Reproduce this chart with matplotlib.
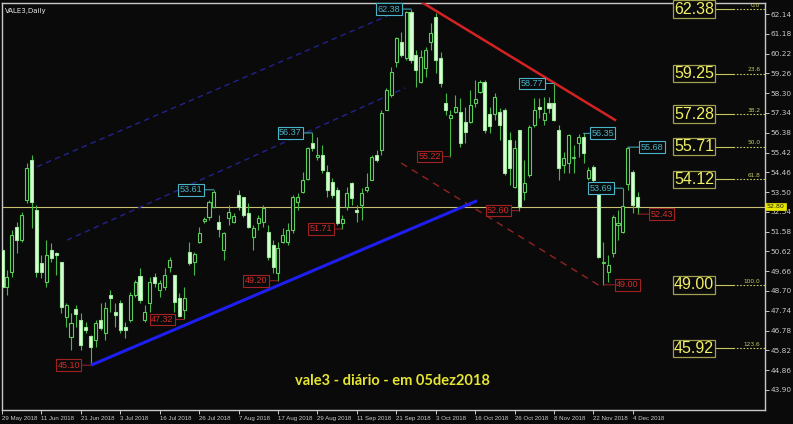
import matplotlib.pyplot as plt
import matplotlib.transforms as mtransforms

# VALE3 daily, 29 May 2018 .. 5 Dec 2018 (bar index 0..129)
opens = [50.69, 48.91, 49.64, 51.82, 51.18, 53.12, 55.06, 52.63, 50.05, 49.16,
         50.69, 50.56, 50.13, 47.46, 46.49, 47.81, 47.30, 46.94, 46.52, 46.33,
         47.30, 46.65, 48.51, 47.70, 48.11, 46.97, 47.30, 48.51, 49.43, 47.30,
         48.11, 49.37, 48.75, 48.91, 49.85, 49.48, 48.35, 47.78, 50.61, 50.13,
         51.10, 52.12, 52.31, 52.80, 52.07, 50.69, 52.23, 52.07, 53.36, 53.25,
         52.47, 51.34, 51.98, 52.06, 51.58, 50.93, 49.56, 51.09, 51.09, 51.66,
         53.03, 53.52, 54.12, 55.90, 55.19, 55.30, 54.49, 54.00, 53.60, 52.01,
         52.76, 53.92, 52.63, 52.87, 53.60, 54.08, 55.30, 55.54, 57.48, 58.21,
         59.83, 60.80, 59.99, 62.25, 60.15, 58.86, 59.50, 60.80, 62.01, 59.99,
         57.81, 57.08, 57.40, 57.40, 56.90, 56.92, 57.80, 58.37, 58.86, 57.30,
         57.30, 57.40, 57.48, 56.03, 53.76, 56.51, 53.52, 54.33, 56.76, 57.65,
         57.00, 57.81, 57.81, 56.51, 54.82, 54.90, 55.14, 55.87, 56.19, 54.17,
         54.73, 53.93, 50.05, 49.64, 50.53, 51.90, 51.58, 53.90, 54.49, 53.27]
highs = [50.85, 49.72, 51.66, 52.07, 52.55, 54.90, 55.30, 52.88, 50.45, 51.18,
         51.02, 50.61, 50.13, 48.11, 47.62, 48.02, 47.62, 47.22, 46.57, 47.30,
         48.11, 48.19, 48.75, 48.11, 48.27, 47.22, 48.67, 49.24, 49.80, 48.02,
         49.40, 49.56, 49.24, 49.80, 50.37, 49.48, 48.59, 48.91, 51.10, 50.61,
         51.82, 52.31, 53.12, 53.61, 52.39, 51.58, 52.88, 52.47, 53.60, 53.28,
         52.96, 51.91, 52.39, 52.87, 51.90, 51.17, 51.09, 51.74, 51.98, 53.35,
         53.44, 54.49, 55.70, 56.37, 56.19, 55.78, 54.81, 54.16, 53.76, 52.39,
         53.76, 54.00, 52.87, 53.68, 54.41, 55.30, 55.54, 57.48, 58.53, 59.59,
         61.04, 61.28, 62.30, 62.38, 60.39, 60.39, 60.56, 61.69, 62.17, 60.31,
         58.29, 57.48, 58.21, 58.05, 57.65, 58.45, 58.94, 58.94, 58.94, 57.64,
         58.30, 57.56, 57.56, 56.43, 56.03, 56.51, 55.06, 56.76, 58.05, 58.05,
         58.13, 58.13, 58.77, 56.76, 55.46, 56.30, 55.79, 56.30, 56.35, 54.73,
         54.82, 54.01, 51.10, 50.45, 52.39, 52.63, 53.69, 55.68, 54.57, 53.52]
lows = [48.83, 48.51, 49.40, 50.53, 51.10, 52.96, 51.74, 49.40, 49.32, 48.91,
        50.13, 49.48, 47.62, 46.97, 45.84, 46.97, 45.84, 46.65, 45.10, 46.00,
        46.81, 46.33, 47.70, 46.97, 46.65, 46.41, 47.22, 48.43, 48.11, 47.22,
        47.70, 48.91, 48.43, 48.75, 49.64, 47.70, 47.46, 47.32, 49.96, 49.48,
        51.02, 51.99, 52.15, 52.71, 51.34, 50.21, 51.91, 51.99, 52.63, 52.31,
        51.74, 50.69, 51.66, 51.82, 50.20, 49.56, 49.20, 51.01, 50.93, 51.50,
        52.63, 53.44, 54.08, 55.50, 55.06, 54.41, 53.28, 53.19, 51.90, 51.71,
        52.63, 52.87, 52.06, 52.14, 53.52, 54.08, 54.97, 55.30, 57.48, 58.13,
        59.59, 60.07, 59.91, 59.75, 58.61, 58.78, 59.10, 60.39, 59.26, 58.61,
        57.24, 55.22, 57.32, 55.71, 55.87, 56.84, 57.64, 58.29, 56.35, 56.35,
        57.00, 56.03, 54.33, 53.85, 53.68, 52.60, 53.12, 54.25, 56.67, 57.08,
        56.76, 57.32, 56.95, 54.09, 54.41, 54.41, 54.41, 55.22, 54.90, 54.09,
        53.44, 50.29, 49.00, 49.16, 50.37, 51.18, 51.50, 53.60, 52.47, 52.43]
closes = [48.91, 49.40, 51.42, 51.18, 52.39, 54.66, 53.04, 49.64, 49.64, 50.45,
          50.29, 50.45, 47.94, 48.02, 47.13, 47.59, 46.08, 46.81, 46.00, 47.13,
          46.89, 47.86, 48.35, 47.54, 46.81, 46.81, 48.51, 49.16, 48.27, 47.70,
          49.16, 49.08, 49.08, 49.48, 50.18, 48.19, 47.49, 48.35, 50.05, 50.50,
          51.50, 52.18, 53.04, 53.52, 51.70, 51.53, 52.55, 52.34, 52.80, 52.39,
          51.79, 51.74, 52.22, 52.71, 50.36, 49.88, 50.77, 51.42, 51.66, 53.28,
          53.28, 54.08, 55.62, 55.62, 55.30, 54.57, 53.60, 53.36, 51.98, 52.17,
          53.44, 53.19, 52.55, 53.44, 53.76, 55.22, 55.05, 57.32, 58.45, 59.34,
          60.96, 60.15, 62.25, 59.91, 59.42, 60.07, 60.39, 61.20, 59.91, 58.78,
          57.48, 57.24, 57.64, 55.87, 56.43, 57.72, 58.00, 58.86, 56.51, 56.70,
          58.10, 56.76, 54.41, 54.65, 55.62, 52.80, 53.93, 56.67, 57.48, 57.52,
          57.32, 57.56, 57.00, 54.65, 55.14, 56.27, 55.22, 56.19, 55.38, 54.57,
          54.09, 50.37, 50.13, 49.96, 52.31, 52.01, 52.80, 55.62, 52.87, 52.80]

date_labels = ['29 May 2018', '11 Jun 2018', '21 Jun 2018', '3 Jul 2018', '16 Jul 2018',
               '26 Jul 2018', '7 Aug 2018', '17 Aug 2018', '29 Aug 2018', '11 Sep 2018',
               '21 Sep 2018', '3 Oct 2018', '16 Oct 2018', '26 Oct 2018', '8 Nov 2018',
               '22 Nov 2018', '4 Dec 2018']
bars_per_label = 8

price_ticks = [62.14 - 0.96 * n for n in range(20)]
last_price = 52.80

# fibonacci levels (price, ratio)
fib_prices = [62.38, 59.25, 57.28, 55.71, 54.12, 49.00, 45.92]
fib_ratios = ['0.0', '23.6', '38.2', '50.0', '61.8', '100.0', '123.6']

# swing labels: bar index, price, label offset in pixels
high_bars = [43, 63, 83, 112, 118, 126, 127]
high_prices = [53.61, 56.37, 62.38, 58.77, 56.35, 53.69, 55.68]
high_dx = [-23, -22, -22, -22, 19, -22, 24]
low_bars = [18, 37, 56, 69, 91, 105, 122, 129]
low_prices = [45.10, 47.32, 49.20, 51.71, 55.22, 52.60, 49.00, 52.43]
low_dx = [-22, -22, -22, -21, -21, -21, 24, 24]

# trend lines (bar index, price)
blue_x, blue_y = [18.05, 96.4], [45.10, 53.08]
chan1_x, chan1_y = [7.1, 81.4], [54.73, 62.38]
chan2_x, chan2_y = [13.2, 81.8], [51.17, 58.55]
red_x, red_y = [84.45, 124.4], [62.82, 57.00]
redd_x, redd_y = [81.0, 121.97], [54.91, 48.85]

BG = '#0a0a0a'
FG = '#c8c8c8'
W, H = 793, 424

fig = plt.figure(figsize=(W / 100, H / 100), dpi=100, facecolor=BG)
ax = fig.add_axes([2 / W, 14 / H, 763 / W, 407 / H], facecolor=BG)

n = len(opens)
xs = list(range(n))

# current price line
ax.axhline(last_price, color='#c8c070', lw=0.8, zorder=1)

# candles
ax.vlines(xs, lows, highs, color='#48b848', lw=0.8, zorder=2)
bottoms = [min(o, c) for o, c in zip(opens, closes)]
heights = [max(abs(c - o), 0.04) for o, c in zip(opens, closes)]
faces = [BG if c > o else '#dcffd4' for o, c in zip(opens, closes)]
edges = ['#5ad05a' if c > o else '#9ce89c' for o, c in zip(opens, closes)]
ax.bar(xs, heights, bottom=bottoms, width=0.62, color=faces, edgecolor=edges,
       linewidth=0.8, zorder=3)

# trend lines
ax.plot(blue_x, blue_y, color='#1e1ef0', lw=2.2, zorder=4, solid_capstyle='butt')
ax.plot(chan1_x, chan1_y, color='#22228f', lw=1.0, ls=(0, (4, 3)), zorder=1)
ax.plot(chan2_x, chan2_y, color='#22228f', lw=1.0, ls=(0, (4, 3)), zorder=1)
ax.plot(red_x, red_y, color='#d42222', lw=1.8, zorder=4)
ax.plot(redd_x, redd_y, color='#962222', lw=1.0, ls=(0, (5, 4)), zorder=1)

# swing labels
lab_font = dict(family='Liberation Sans', fontsize=6.5)
for k, p, dx in zip(high_bars, high_prices, high_dx):
    c = '#4ab4c8'
    ax.annotate(f'{p:.2f}', xy=(k, p), xytext=(dx, 0), textcoords='offset pixels',
                ha='center', va='center', color=c, zorder=6,
                bbox=dict(boxstyle='square,pad=0.15', fc=BG, ec=c, lw=0.8),
                arrowprops=dict(arrowstyle='-', color=c, lw=0.7, shrinkA=0, shrinkB=0),
                **lab_font)
for k, p, dx in zip(low_bars, low_prices, low_dx):
    c = '#d42a2a'
    ax.annotate(f'{p:.2f}', xy=(k, p), xytext=(dx, 0), textcoords='offset pixels',
                ha='center', va='center', color=c, zorder=6,
                bbox=dict(boxstyle='square,pad=0.15', fc=BG, ec='#a02222', lw=0.8),
                arrowprops=dict(arrowstyle='-', color='#a02222', lw=0.7, shrinkA=0, shrinkB=0),
                **lab_font)

# fibonacci boxes
trans = mtransforms.blended_transform_factory(ax.transAxes, ax.transData)
for p, r in zip(fib_prices, fib_ratios):
    ax.text(0.907, p, f'{p:.2f}', transform=trans, ha='center', va='center',
            color='#f0f064', family='Liberation Sans', fontsize=11.5, zorder=6,
            bbox=dict(boxstyle='square,pad=0.08', fc=BG, ec='#a0a050', lw=0.9))
    ax.plot([0.936, 0.958], [p, p], transform=trans, color='#c8c860', lw=0.8)
    ax.plot([0.958, 1.0], [p, p], transform=trans, color='#c8c860', lw=0.8, ls=(0, (1.5, 1.5)))
    ax.text(0.994, p + 0.06, r, transform=trans, ha='right', va='bottom',
            color='#c8c860', fontsize=4.2)

# price tag
ax.text(1.002, last_price, f'{last_price:.2f}', transform=trans, ha='left', va='center',
        color='#202000', fontsize=4.6, zorder=7, clip_on=False,
        bbox=dict(boxstyle='square,pad=0.2', fc='#e6e600', ec='#e6e600', lw=0.5))

# axes
ax.set_xlim(0.06, 154.83)
ax.set_ylim(42.926, 62.674)
ax.yaxis.tick_right()
ax.set_yticks(price_ticks)
ax.set_yticklabels([f'{t:.2f}' for t in price_ticks])
ax.set_xticks([i * bars_per_label for i in range(len(date_labels))])
ax.set_xticklabels(date_labels, family='Liberation Sans')
for lbl in ax.get_xticklabels():
    lbl.set_ha('left')
ax.tick_params(axis='both', colors=FG, length=3, width=0.7, pad=1)
ax.tick_params(axis='x', labelsize=4.4)
ax.tick_params(axis='y', labelsize=5.3)
for s in ax.spines.values():
    s.set_color(FG)
    s.set_linewidth(1)

ax.text(0.004, 0.988, 'VALE3,Daily', transform=ax.transAxes, color='#e8e8e8',
        fontsize=5, va='top', ha='left')
fig.text(392 / W, 1 - 381 / H, 'vale3 - diário - em 05dez2018', color='#e6e632',
         fontsize=10.5, fontweight='bold', family='Lato', ha='center', va='center')

fig.savefig('out.png', dpi=100, facecolor=BG)
